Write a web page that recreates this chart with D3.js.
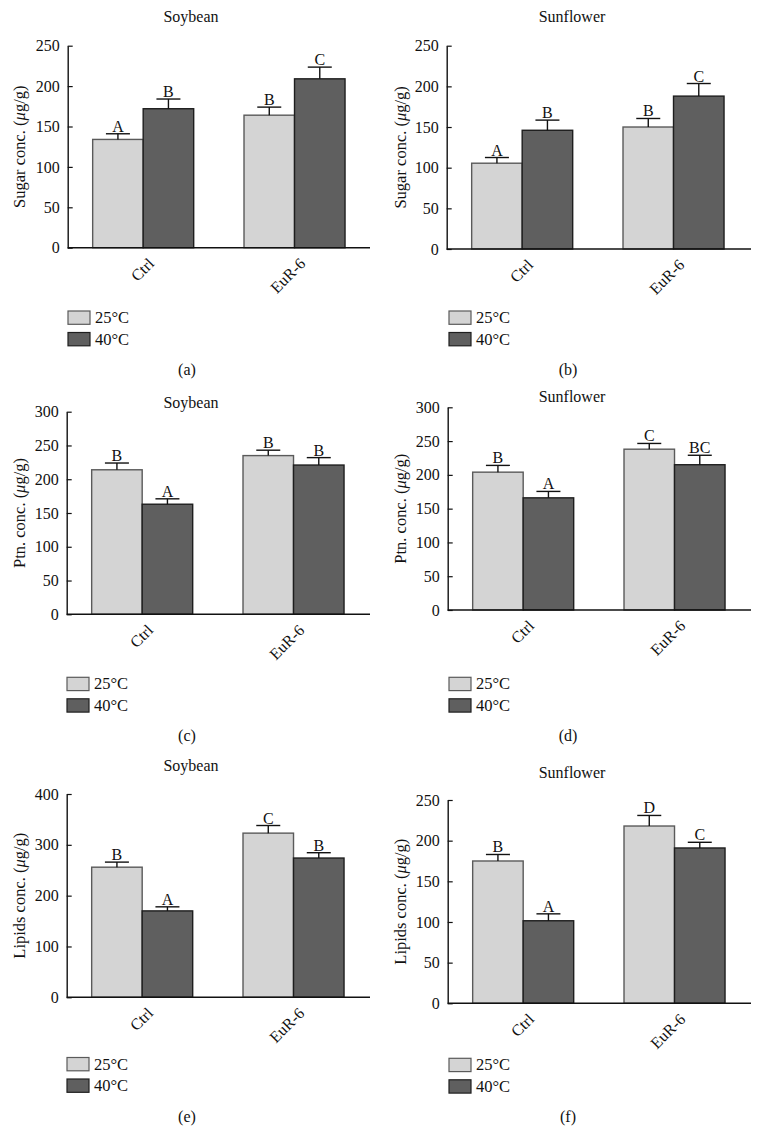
<!DOCTYPE html>
<html>
<head>
<meta charset="utf-8">
<script src="https://cdn.jsdelivr.net/npm/d3@7"></script>
<style>
  html, body { margin: 0; padding: 0; background: #fff; }
  svg { display: block; }
  text { font-family: "Liberation Serif", "DejaVu Serif", serif; fill: #111; }
</style>
</head>
<body>
<svg id="chart" width="762" height="1148"></svg>
<script>
// ---------- data ----------
const categories = ["Ctrl", "EuR-6"];
const seriesNames = ["25°C", "40°C"];

const ticks250 = [0, 50, 100, 150, 200, 250];
const ticks300 = [0, 50, 100, 150, 200, 250, 300];
const ticks400 = [0, 100, 200, 300, 400];

// (a) Sugar, Soybean
const sugarSoy25 = [134, 164];
const sugarSoy40 = [172, 209];
const sugarSoyErr25 = [7, 10];
const sugarSoyErr40 = [12, 14.5];
const sugarSoyLetters25 = ["A", "B"];
const sugarSoyLetters40 = ["B", "C"];

// (b) Sugar, Sunflower
const sugarSun25 = [105.5, 150];
const sugarSun40 = [146, 188];
const sugarSunErr25 = [7, 10.5];
const sugarSunErr40 = [12.5, 15.5];
const sugarSunLetters25 = ["A", "B"];
const sugarSunLetters40 = ["B", "C"];

// (c) Protein, Soybean
const ptnSoy25 = [214, 235];
const ptnSoy40 = [163, 221];
const ptnSoyErr25 = [10, 8];
const ptnSoyErr40 = [8, 11];
const ptnSoyLetters25 = ["B", "B"];
const ptnSoyLetters40 = ["A", "B"];

// (d) Protein, Sunflower
const ptnSun25 = [204, 238];
const ptnSun40 = [166, 215];
const ptnSunErr25 = [10, 8.5];
const ptnSunErr40 = [9.5, 14];
const ptnSunLetters25 = ["B", "C"];
const ptnSunLetters40 = ["A", "BC"];

// (e) Lipids, Soybean
const lipSoy25 = [256, 323];
const lipSoy40 = [170, 274];
const lipSoyErr25 = [10, 15];
const lipSoyErr40 = [8, 10.5];
const lipSoyLetters25 = ["B", "C"];
const lipSoyLetters40 = ["A", "B"];

// (f) Lipids, Sunflower
const lipSun25 = [175, 218];
const lipSun40 = [101.5, 191];
const lipSunErr25 = [8, 13];
const lipSunErr40 = [8.5, 7];
const lipSunLetters25 = ["B", "D"];
const lipSunLetters40 = ["A", "C"];

// ---------- layout ----------
const colors = ["#d4d4d4", "#5f5f5f"];
const strokes = ["#5a5a5a", "#1e1e1e"];
const FS = 16;

const panels = [
  { tag: "(a)", title: "Soybean", ylab: "Sugar conc. (", max: 250, ticks: ticks250,
    v: [sugarSoy25, sugarSoy40], e: [sugarSoyErr25, sugarSoyErr40], l: [sugarSoyLetters25, sugarSoyLetters40],
    ox: 0, axisX: 67.7, xEnd: 370, y0: 247.7, yTop: 45.7, titleY: 22, legY: 311, capY: 375, legX: 68 },
  { tag: "(b)", title: "Sunflower", ylab: "Sugar conc. (", max: 250, ticks: ticks250,
    v: [sugarSun25, sugarSun40], e: [sugarSunErr25, sugarSunErr40], l: [sugarSunLetters25, sugarSunLetters40],
    ox: 381, axisX: 446.7, xEnd: 751, y0: 249, yTop: 45.7, titleY: 22, legY: 311, capY: 375, legX: 449 },
  { tag: "(c)", title: "Soybean", ylab: "Ptn. conc. (", max: 300, ticks: ticks300,
    v: [ptnSoy25, ptnSoy40], e: [ptnSoyErr25, ptnSoyErr40], l: [ptnSoyLetters25, ptnSoyLetters40],
    ox: 0, axisX: 66.7, xEnd: 370, y0: 614.3, yTop: 411.7, titleY: 407.5, legY: 677.3, capY: 741, legX: 67 },
  { tag: "(d)", title: "Sunflower", ylab: "Ptn. conc. (", max: 300, ticks: ticks300,
    v: [ptnSun25, ptnSun40], e: [ptnSunErr25, ptnSunErr40], l: [ptnSunLetters25, ptnSunLetters40],
    ox: 381, axisX: 447.7, xEnd: 751, y0: 610, yTop: 407.3, titleY: 402, legY: 677.3, capY: 741, legX: 449 },
  { tag: "(e)", title: "Soybean", ylab: "Lipids conc. (", max: 400, ticks: ticks400,
    v: [lipSoy25, lipSoy40], e: [lipSoyErr25, lipSoyErr40], l: [lipSoyLetters25, lipSoyLetters40],
    ox: 0, axisX: 66.7, xEnd: 370, y0: 997.3, yTop: 794, titleY: 771, legY: 1057.5, capY: 1122, legX: 67 },
  { tag: "(f)", title: "Sunflower", ylab: "Lipids conc. (", max: 250, ticks: ticks250,
    v: [lipSun25, lipSun40], e: [lipSunErr25, lipSunErr40], l: [lipSunLetters25, lipSunLetters40],
    ox: 381, axisX: 447.7, xEnd: 751, y0: 1003.3, yTop: 800, titleY: 777.5, legY: 1058.3, capY: 1122, legX: 449 }
];

const svg = d3.select("#chart");

panels.forEach(p => {
  const g = svg.append("g");
  const y = d3.scaleLinear().domain([0, p.max]).range([p.y0, p.yTop]);
  const x0 = d3.scaleBand().domain(categories).range([p.axisX, p.axisX + 302.3])
    .paddingInner(0.3325).paddingOuter(0.165);
  const x1 = d3.scaleBand().domain(seriesNames).range([0, x0.bandwidth()]).padding(0);

  // title
  g.append("text").attr("x", p.ox + 191).attr("y", p.titleY)
    .attr("text-anchor", "middle").attr("font-size", FS).text(p.title);

  // y axis
  const yAxis = d3.axisLeft(y).tickValues(p.ticks).tickSizeInner(-5).tickSizeOuter(0).tickPadding(8);
  const ya = g.append("g").attr("transform", `translate(${p.axisX},0)`).call(yAxis);
  ya.select(".domain").attr("stroke", "#111").attr("stroke-width", 1.4);
  ya.selectAll(".tick line").attr("stroke", "#111").attr("stroke-width", 1.2);
  ya.selectAll(".tick text").attr("font-size", FS).attr("font-family", "Liberation Serif").attr("fill", "#111");

  // y label
  const yl = g.append("text")
    .attr("transform", `translate(${p.ox + 25},${(p.y0 + p.yTop) / 2}) rotate(-90)`)
    .attr("text-anchor", "middle").attr("font-size", 16.5);
  yl.append("tspan").text(p.ylab);
  yl.append("tspan").attr("font-style", "italic").text("μ");
  yl.append("tspan").text("g/g)");

  // bars
  seriesNames.forEach((s, si) => {
    categories.forEach((c, ci) => {
      const val = p.v[si][ci];
      const err = p.e[si][ci];
      const bx = x0(c) + x1(s);
      const bw = x1.bandwidth();
      g.append("rect").attr("x", bx).attr("y", y(val))
        .attr("width", bw).attr("height", y(0) - y(val))
        .attr("fill", colors[si]).attr("stroke", strokes[si]).attr("stroke-width", 1.4);
      const cx = bx + bw / 2;
      const top = y(val + err);
      g.append("line").attr("x1", cx).attr("x2", cx).attr("y1", y(val)).attr("y2", top)
        .attr("stroke", "#111").attr("stroke-width", 1.4);
      g.append("line").attr("x1", cx - 12).attr("x2", cx + 12).attr("y1", top).attr("y2", top)
        .attr("stroke", "#111").attr("stroke-width", 1.4);
      g.append("text").attr("x", cx).attr("y", top - 2)
        .attr("text-anchor", "middle").attr("font-size", FS).text(p.l[si][ci]);
    });
  });

  // x axis line
  g.append("line").attr("x1", p.axisX).attr("x2", p.xEnd).attr("y1", p.y0).attr("y2", p.y0)
    .attr("stroke", "#111").attr("stroke-width", 1.4);

  // x labels
  categories.forEach(c => {
    const cx = x0(c) + x0.bandwidth() / 2;
    g.append("text")
      .attr("transform", `translate(${cx + 4},${p.y0 + 9}) rotate(-45)`)
      .attr("text-anchor", "end").attr("dy", "0.7em").attr("font-size", FS).text(c);
  });

  // legend
  seriesNames.forEach((s, si) => {
    const ly = p.legY + si * 21.5;
    g.append("rect").attr("x", p.legX).attr("y", ly).attr("width", 22).attr("height", 13.3)
      .attr("fill", colors[si]).attr("stroke", strokes[si]).attr("stroke-width", 1.2);
    g.append("text").attr("x", p.legX + 27).attr("y", ly + 12)
      .attr("font-size", 16.5).text(s);
  });

  // caption
  g.append("text").attr("x", p.ox + 187).attr("y", p.capY)
    .attr("text-anchor", "middle").attr("font-size", FS).text(p.tag);
});
</script>
</body>
</html>
